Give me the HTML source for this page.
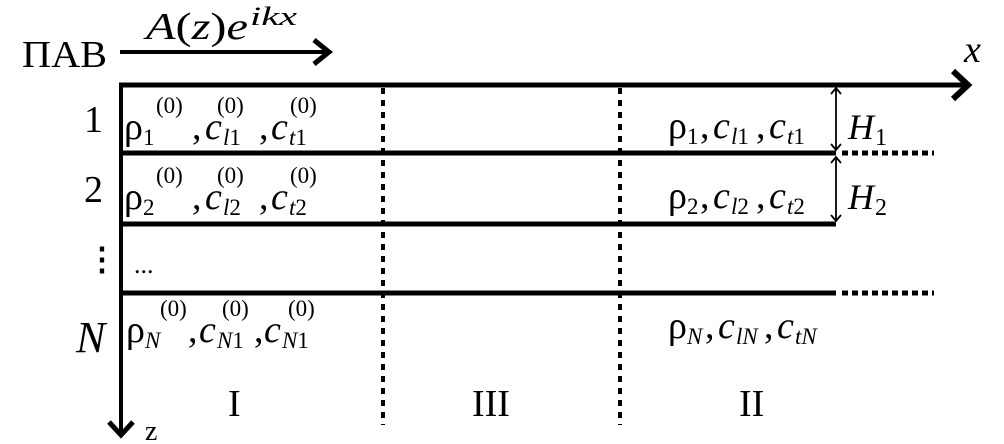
<!DOCTYPE html>
<html><head><meta charset="utf-8"><style>
html,body{margin:0;padding:0;background:#fff;}
svg{display:block;}
text{font-family:"Liberation Serif",serif;fill:#000;}
.i{font-style:italic;}
.m{font-size:38px;}
.s{font-size:23px;}
</style></head><body>
<svg width="1004" height="444" viewBox="0 0 1004 444" xmlns="http://www.w3.org/2000/svg">
<!-- top arrow -->
<line x1="120" y1="52" x2="328" y2="52" stroke="#000" stroke-width="4"/>
<polyline points="314,40 329,52 314,64" fill="none" stroke="#000" stroke-width="5"/>
<text x="22" y="67" font-size="38" textLength="85" lengthAdjust="spacingAndGlyphs">ПАВ</text>
<text x="146" y="39" font-size="38" class="i" textLength="102" lengthAdjust="spacingAndGlyphs">A<tspan font-style="normal">(</tspan>z<tspan font-style="normal">)</tspan>e</text>
<text x="250" y="25" font-size="26" class="i" textLength="47" lengthAdjust="spacingAndGlyphs">ikx</text>
<!-- x axis -->
<line x1="119" y1="85" x2="966" y2="85" stroke="#000" stroke-width="5"/>
<polyline points="953,71 968,85 953,99" fill="none" stroke="#000" stroke-width="6"/>
<text x="964" y="62" font-size="38" class="i">x</text>
<!-- z axis -->
<line x1="121" y1="83" x2="121" y2="434" stroke="#000" stroke-width="4"/>
<polyline points="109,422 121,435 133,422" fill="none" stroke="#000" stroke-width="5"/>
<text x="145" y="440" font-size="28">z</text>
<!-- layer lines -->
<g stroke="#000" stroke-width="5">
<line x1="121" y1="153" x2="836" y2="153"/>
<line x1="121" y1="224" x2="836" y2="224"/>
<line x1="121" y1="293" x2="836" y2="293"/>
</g>
<g stroke="#000" stroke-width="5" stroke-dasharray="6,4">
<line x1="842" y1="153" x2="934" y2="153"/>
<line x1="842" y1="293" x2="934" y2="293"/>
</g>
<g stroke="#000" stroke-width="4" stroke-dasharray="6,6">
<line x1="383" y1="88" x2="383" y2="425"/>
<line x1="620" y1="88" x2="620" y2="425"/>
</g>
<!-- H arrows -->
<g stroke="#000" stroke-width="1.8" fill="none">
<line x1="836" y1="89" x2="836" y2="149"/>
<polyline points="831,94 836,88 841,94"/><polyline points="831,144 836,150 841,144"/>
<line x1="836" y1="158" x2="836" y2="220"/>
<polyline points="831,163 836,157 841,163"/><polyline points="831,215 836,221 841,215"/>
</g>
<text x="848" y="139" font-size="36" class="i">H</text><text x="875" y="145" font-size="24">1</text>
<text x="848" y="209" font-size="36" class="i">H</text><text x="875" y="215" font-size="24">2</text>
<!-- row labels -->
<text x="84" y="132" font-size="38">1</text>
<text x="84" y="202" font-size="38">2</text>
<text x="86" y="270" font-size="32" font-weight="bold">⋮</text>
<text x="76" y="352" font-size="44" class="i">N</text>

<!-- row 1 -->
<g>
<text x="124" y="139" class="m">ρ</text><text x="143" y="145" class="s">1</text><text x="156" y="113" class="s">(0)</text>
<text x="192" y="139" class="m">,</text><text x="205" y="139" class="m i">c</text><text x="223" y="145" class="s"><tspan class="i">l</tspan>1</text><text x="217" y="113" class="s">(0)</text>
<text x="259" y="139" class="m">,</text><text x="271" y="139" class="m i">c</text><text x="289" y="145" class="s"><tspan class="i">t</tspan>1</text><text x="290" y="113" class="s">(0)</text>
</g>
<g transform="translate(0,70)">
<text x="124" y="139" class="m">ρ</text><text x="143" y="145" class="s">2</text><text x="156" y="113" class="s">(0)</text>
<text x="192" y="139" class="m">,</text><text x="205" y="139" class="m i">c</text><text x="223" y="145" class="s"><tspan class="i">l</tspan>2</text><text x="217" y="113" class="s">(0)</text>
<text x="259" y="139" class="m">,</text><text x="271" y="139" class="m i">c</text><text x="289" y="145" class="s"><tspan class="i">t</tspan>2</text><text x="290" y="113" class="s">(0)</text>
</g>
<text x="134" y="273" font-size="26">...</text>
<g transform="translate(0,203)">
<text x="126" y="139" class="m">ρ</text><text x="145" y="145" class="s i">N</text><text x="160" y="113" class="s">(0)</text>
<text x="188" y="139" class="m">,</text><text x="199" y="139" class="m i">c</text><text x="217" y="145" class="s"><tspan class="i">N</tspan>1</text><text x="222" y="113" class="s">(0)</text>
<text x="254" y="139" class="m">,</text><text x="264" y="139" class="m i">c</text><text x="282" y="145" class="s"><tspan class="i">N</tspan>1</text><text x="288" y="113" class="s">(0)</text>
</g>

<!-- right params -->
<g>
<text x="668" y="138" class="m">ρ</text><text x="687" y="144" class="s">1</text>
<text x="700" y="138" class="m">,</text><text x="713" y="138" class="m i">c</text><text x="731" y="144" class="s"><tspan class="i">l</tspan>1</text>
<text x="756" y="138" class="m">,</text><text x="769" y="138" class="m i">c</text><text x="787" y="144" class="s"><tspan class="i">t</tspan>1</text>
</g>
<g transform="translate(0,70)">
<text x="668" y="138" class="m">ρ</text><text x="687" y="144" class="s">2</text>
<text x="700" y="138" class="m">,</text><text x="713" y="138" class="m i">c</text><text x="731" y="144" class="s"><tspan class="i">l</tspan>2</text>
<text x="756" y="138" class="m">,</text><text x="769" y="138" class="m i">c</text><text x="787" y="144" class="s"><tspan class="i">t</tspan>2</text>
</g>
<g transform="translate(0,200)">
<text x="668" y="138" class="m">ρ</text><text x="687" y="144" class="s i">N</text>
<text x="705" y="138" class="m">,</text><text x="718" y="138" class="m i">c</text><text x="736" y="144" class="s i">lN</text>
<text x="764" y="138" class="m">,</text><text x="777" y="138" class="m i">c</text><text x="795" y="144" class="s i">tN</text>
</g>

<!-- region numerals -->
<text x="228" y="416" font-size="38">I</text>
<text x="472" y="416" font-size="38">III</text>
<text x="739" y="416" font-size="38">II</text>
</svg>
</body></html>
